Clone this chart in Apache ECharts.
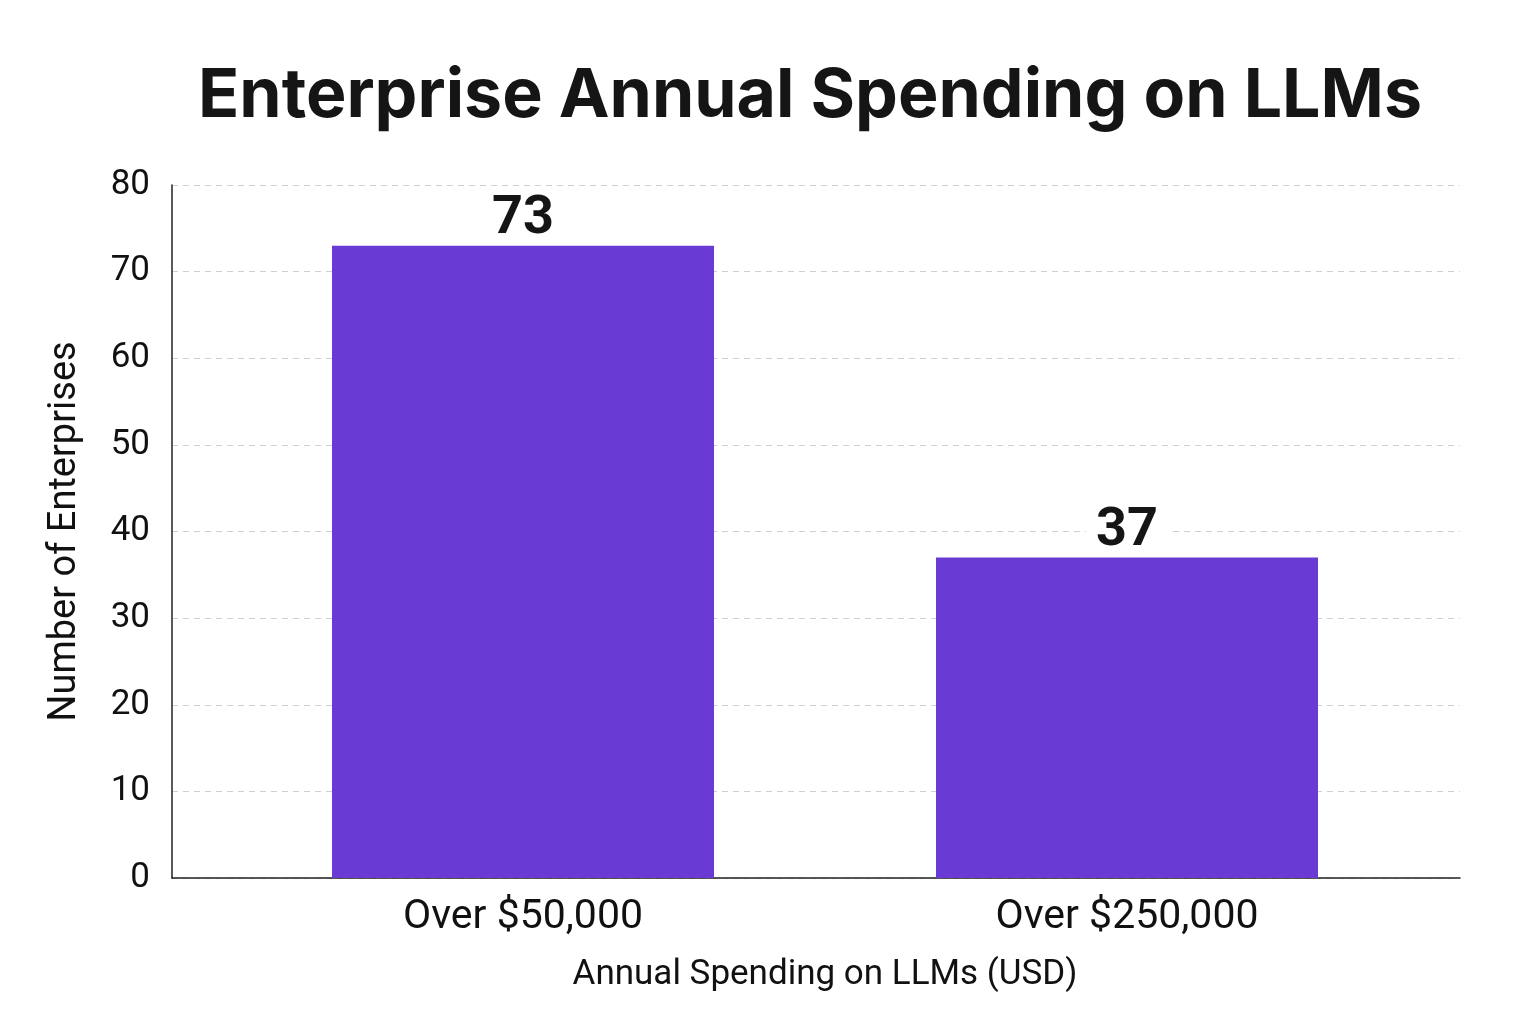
<!DOCTYPE html>
<html><head><meta charset="utf-8">
<script src="https://cdn.jsdelivr.net/npm/echarts@6/dist/echarts.min.js"></script>
<style>html,body{margin:0;padding:0;background:#fff}#c{width:1536px;height:1024px}</style>
</head><body><div id="c"></div>
<script>
const categories = ['Over $50,000', 'Over $250,000'];
const values = [73, 37];
const yTicks = [0, 10, 20, 30, 40, 50, 60, 70, 80];

const yMin = yTicks[0], yMax = yTicks[yTicks.length - 1];
const chart = echarts.init(document.getElementById('c'));
chart.setOption({
  backgroundColor: '#fff',
  title: {
    text: 'Enterprise Annual Spending on LLMs',
    left: 805, top: 58, textAlign: 'center',
    textStyle: {fontFamily: 'Inter', fontWeight: 'bold', fontSize: 68, color: '#151515'}
  },
  grid: [
    {left: 172, right: 76, top: 185, bottom: 146},
    {left: 221, right: 107, top: 185, bottom: 146}
  ],
  xAxis: [
    {
      gridIndex: 0, type: 'value', min: 0, max: 1,
      axisLine: {show: true, onZero: false, lineStyle: {color: '#222', width: 1.5}},
      axisTick: {show: false}, axisLabel: {show: false}, splitLine: {show: false}
    },
    {
      gridIndex: 1, type: 'category', data: categories,
      name: 'Annual Spending on LLMs (USD)', nameLocation: 'middle', nameGap: 80,
      nameTextStyle: {fontFamily: 'Roboto', fontSize: 35, color: '#111'},
      axisLine: {show: false}, axisTick: {show: false},
      axisLabel: {fontFamily: 'Roboto', fontSize: 41, color: '#111', margin: 19}
    }
  ],
  yAxis: [
    {
      gridIndex: 0, type: 'value', min: yMin, max: yMax, interval: 10,
      name: 'Number of Enterprises', nameLocation: 'middle', nameGap: 88,
      nameTextStyle: {fontFamily: 'Roboto', fontSize: 38, color: '#111'},
      axisLine: {show: true, lineStyle: {color: '#222', width: 1.5}},
      axisTick: {show: false},
      axisLabel: {fontFamily: 'Roboto', fontSize: 35, color: '#111', margin: 22},
      splitLine: {lineStyle: {color: '#d0d0d0', type: [6, 5], width: 1}}
    },
    {
      gridIndex: 1, type: 'value', min: yMin, max: yMax, interval: 10,
      axisLine: {show: false}, axisTick: {show: false}, axisLabel: {show: false}, splitLine: {show: false}
    }
  ],
  series: [{
    type: 'bar', data: values, barWidth: 382, xAxisIndex: 1, yAxisIndex: 1,
    itemStyle: {color: '#6A3AD4'},
    label: {
      show: true, position: 'top', distance: 3,
      fontFamily: 'Roboto', fontWeight: 'bold', fontSize: 54, lineHeight: 46, color: '#151515',
      backgroundColor: '#fff', padding: [0, 10]
    }
  }]
});
</script></body></html>
